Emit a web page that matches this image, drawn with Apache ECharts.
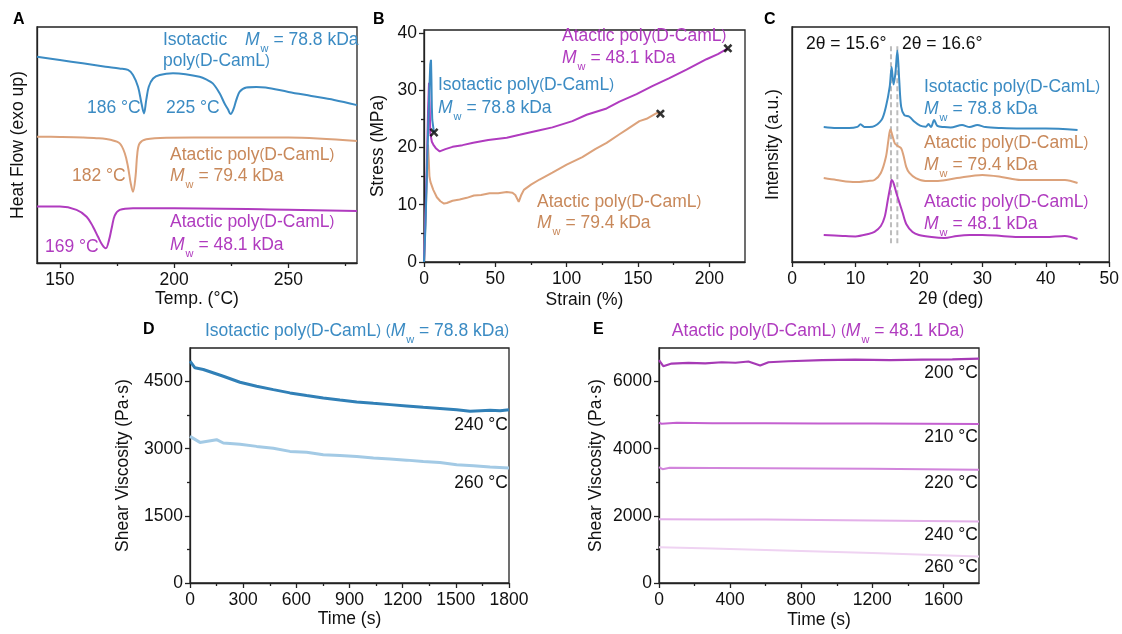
<!DOCTYPE html>
<html><head><meta charset="utf-8">
<script src="https://cdn.jsdelivr.net/npm/echarts@6/dist/echarts.min.js"></script>
<style>html,body{margin:0;padding:0;background:#fff}#c{width:1122px;height:634px}</style>
</head><body><div id="c"></div>
<script>
const FONT = '"Liberation Sans", Arial, Helvetica, sans-serif';
const BLUE = '#3b8bc3', BROWN_T = '#c8885a', BROWN_L = '#dca27b', PURPLE = '#b03bbf';

// ---- Panel A: DSC ----
const dscIsoT  = [140,150,160,170,176,179.8,182,184.2,185.7,186.8,187.8,188.9,190.8,193.7,199.5,205,211.1,214,216.9,219.9,222,223.6,224.7,226,227.2,228.7,231.6,236,240,250,260,270,280];
const dscIsoHF = [87.4,86.0,84.6,83.2,82.4,81.8,79.7,74.7,67.7,63.4,69.1,74.7,78.2,79.7,80.4,80.0,78.9,77.8,76.1,71.9,67.7,65.0,63.1,65.3,69.1,72.6,74.4,74.6,74.4,72.5,70.8,69.1,66.9];
const dscAt79T  = [140,150,160,166,172.6,176.2,178.4,179.8,181,182,183.1,183.9,184.9,187.8,196.6,220,250,280];
const dscAt79HF = [53.5,53.4,53.2,52.9,52.1,50.7,46.5,40.8,33.8,30.2,36.6,46.5,50.7,52.4,53.1,53.2,53.2,51.7];
const dscAt48T  = [140,150,157.3,161.7,164.5,166.7,168.6,170.1,171.5,172.8,174,176.2,182,200,250,280];
const dscAt48HF = [23.9,23.9,22.5,19.6,15.4,11.1,7.6,6.2,9.7,15.4,20.1,22.5,23.2,23.2,22.6,22.0];
const aXMajor = [150,200,250], aXMinor = [175,225,275];

// ---- Panel B: stress-strain ----
const ssIsoStrain = [0,1,2,3,3.8,4.4,4.9,5.2,5.5,5.8,6.5,7];
const ssIsoStress = [0,6,15,24,30.5,34.5,35.3,32,27,24.8,23.5,22.6];
const ssAt48Strain = [0,1,2,2.8,3.5,4,4.4,5.5,6.5,8.5,11,15,20,27,34.5,45,58,67,81,90,104,114,128,137,149,160,172,184,198,206,213];
const ssAt48Stress = [0,8,17,26,31.3,27,22.5,21,20.5,19.8,19.3,19.7,20.1,20.4,20.8,21.3,21.7,22.2,23.0,23.5,24.6,25.7,26.8,28.0,29.3,30.7,32.1,33.6,35.4,36.3,37.3];
const ssAt79Strain = [0,1,2,2.8,3.3,3.8,4.5,6.5,9,11.5,14,16,20,25,30,35,40,46,52,58,62,64,66.4,68,70,75,81,90,100,111,120,128,137,142,151,156,163,165.7];
const ssAt79Stress = [0,7,15,20.5,18,15,14,12.6,11.3,10.6,10.2,10.3,10.7,10.9,11.2,11.6,11.7,12.0,12.0,12.2,12.1,11.7,10.5,11.6,12.6,13.5,14.4,15.6,17.0,18.3,19.7,20.8,22.3,23.1,24.6,25.0,26.0,25.9];
const breakStrain = [7,165.7,213];
const breakStress = [22.6,25.9,37.3];
const bXMajor = [0,50,100,150,200], bXMinor = [25,75,125,175];
const bYMajor = [0,10,20,30,40], bYMinor = [5,15,25,35];

// ---- Panel C: XRD ----
const xrdIso2t = [5,7,9,10.3,10.8,11.4,12.7,14.1,14.8,15.4,15.7,16.0,16.3,16.6,16.9,17.2,17.7,18.5,19.3,20.2,21.1,21.5,21.9,22.4,22.9,24,25,26.8,28,29.2,30.5,33,36,40,45];
const xrdIsoI  = [57.4,57.0,57.0,57.5,58.6,57.5,57.6,60.4,66.1,74.6,83.0,75.5,80.5,90.0,77.4,66.1,62.5,61.8,59.7,58.0,57.6,58.7,57.4,60.4,57.9,57.4,57.2,58.3,57.4,58.3,57.4,57.0,56.8,56.8,56.2];
const xrdAt79_2t = [5,7,10,12,13,14,14.8,15.2,15.5,15.8,16.2,16.6,17.2,17.6,18.0,18.5,19.5,21,23,26,30,33,36,40,43,45];
const xrdAt79I   = [35.7,34.9,34.0,34.5,34.9,37.9,44.7,52,56.5,54,50.5,49.5,48.4,45,40.5,37.9,35.7,34.5,34.5,35.7,37.0,36.2,34.9,34.9,34.9,33.6];
const xrdAt48_2t = [5,8,10,12,13,14,14.6,15.1,15.5,15.7,16.0,16.4,16.9,17.4,18,19,20,22,24,26,28,30,33,36,40,43,45];
const xrdAt48I   = [11.5,11.1,10.9,11.9,12.8,15.3,19.1,26.4,32.3,34.9,33.6,29.8,25.5,21.3,16.2,12.8,11.5,10.6,10.2,11.1,11.5,11.5,11.1,10.6,10.6,11.1,9.8];
const refPeaks = [15.6,16.6];
const refSpan = [8,93];
const cXMajor = [0,10,20,30,40,50], cXMinor = [5,15,25,35,45];

// ---- Panel D: isotactic viscosity ----
const dT240 = [0,28,75,188,282,376,470,564,658,752,846,941,1035,1129,1222,1316,1410,1505,1580,1640,1693,1750,1800];
const dV240 = [4955,4807,4769,4619,4485,4395,4320,4247,4190,4135,4090,4046,4015,3985,3955,3925,3900,3873,3835,3850,3858,3850,3873];
const dT260 = [0,56,150,188,282,376,470,564,658,752,846,941,1035,1129,1222,1316,1410,1505,1600,1693,1800];
const dV260 = [3276,3141,3202,3127,3100,3052,3010,2940,2920,2866,2850,2828,2790,2769,2745,2716,2690,2642,2620,2590,2568];
const dXMajor = [0,300,600,900,1200,1500,1800], dXMinor = [150,450,750,1050,1350,1650];
const dYMajor = [0,1500,3000,4500], dYMinor = [750,2250,3750];

// ---- Panel E: atactic viscosity ----
const eT200 = [0,24,71,165,260,353,430,503,569,616,728,917,1104,1300,1480,1650,1800];
const eV200 = [6636,6457,6537,6558,6540,6576,6560,6597,6477,6576,6606,6636,6656,6640,6656,6660,6686];
const eT210 = [0,15,100,300,600,900,1200,1500,1800];
const eV210 = [4780,4740,4770,4760,4755,4750,4750,4745,4735];
const eT220 = [0,20,60,300,600,900,1200,1500,1800];
const eV220 = [3450,3390,3430,3425,3420,3410,3400,3390,3370];
const eT240 = [0,300,600,900,1200,1500,1800];
const eV240 = [1900,1895,1890,1875,1860,1845,1830];
const eT260 = [0,300,600,900,1200,1500,1800];
const eV260 = [1066,1030,985,940,890,840,790];
const eXMajor = [0,400,800,1200,1600], eXMinor = [200,600,1000,1400];
const eYMajor = [0,2000,4000,6000], eYMinor = [1000,3000,5000];

function zip(a,b){return a.map((v,i)=>[v,b[i]]);}

const gridDefs = [
  {left:37, top:27, width:320, height:236},
  {left:424, top:30, width:321, height:232},
  {left:792, top:27, width:319, height:235},
  {left:190, top:348, width:319, height:235},
  {left:659, top:348, width:320, height:235}
];
// main grids (0-4) draw the frame; overlay grids (5-9) carry the minor ticks
const grids = gridDefs.map(g=>Object.assign({show:true, borderColor:'#222', borderWidth:1.3, backgroundColor:'rgba(0,0,0,0)'}, g))
  .concat(gridDefs.map(g=>Object.assign({show:false}, g)));

const AL = {color:'#222', width:1.3};
const LBL = {color:'#111', fontSize:17.5, fontFamily:FONT};

function mainX(gi,min,max,major,name,gap){
  return {type:'value', gridIndex:gi, min, max, position:'bottom',
    axisLine:{show:true, onZero:false, lineStyle:AL},
    axisTick:{show:true, customValues:major, length:5, lineStyle:AL},
    axisLabel:Object.assign({show:true, customValues:major, margin:8, formatter:v=>String(v)}, LBL),
    splitLine:{show:false},
    name, nameLocation:'middle', nameGap:gap, nameTextStyle:LBL};
}
function minorX(gi,min,max,minor){
  return {type:'value', gridIndex:gi+5, min, max, position:'bottom', show: !!minor,
    axisLine:{show:false, onZero:false}, axisTick:{show:!!minor, customValues:minor||[], length:3, lineStyle:AL},
    axisLabel:{show:false}, splitLine:{show:false}};
}
function mainY(gi,min,max,major,name,gap){
  const show = !!major;
  return {type:'value', gridIndex:gi, min, max, position:'left',
    axisLine:{show:true, onZero:false, lineStyle:AL},
    axisTick:{show:show, customValues:major||[], length:5, lineStyle:AL},
    axisLabel:Object.assign({show:show, customValues:major||[], margin:7, formatter:v=>String(v)}, LBL),
    splitLine:{show:false},
    name, nameLocation:'middle', nameGap:gap, nameTextStyle:LBL};
}
function minorY(gi,min,max,minor){
  return {type:'value', gridIndex:gi+5, min, max, position:'left', show: !!minor,
    axisLine:{show:false, onZero:false}, axisTick:{show:!!minor, customValues:minor||[], length:3, lineStyle:AL},
    axisLabel:{show:false}, splitLine:{show:false}};
}

const xAxes = [
  mainX(0,140,280,aXMajor,'Temp. (°C)',27),
  mainX(1,0,225,bXMajor,'Strain (%)',29),
  mainX(2,0,50,cXMajor,'2θ (deg)',28),
  mainX(3,0,1800,dXMajor,'Time (s)',27),
  mainX(4,0,1800,eXMajor,'Time (s)',28),
  minorX(0,140,280,aXMinor),
  minorX(1,0,225,bXMinor),
  minorX(2,0,50,cXMinor),
  minorX(3,0,1800,dXMinor),
  minorX(4,0,1800,eXMinor)
];
const yAxes = [
  mainY(0,0,100,null,'Heat Flow (exo up)',10),
  mainY(1,0,40.5,bYMajor,'Stress (MPa)',37),
  mainY(2,0,100,null,'Intensity (a.u.)',10),
  mainY(3,0,5250,dYMajor,'Shear Viscosity (Pa·s)',58),
  mainY(4,0,7000,eYMajor,'Shear Viscosity (Pa·s)',54),
  minorY(0,0,100,null),
  minorY(1,0,40.5,bYMinor),
  minorY(2,0,100,null),
  minorY(3,0,5250,dYMinor),
  minorY(4,0,7000,eYMinor)
];

function line(p, data, color, width, smooth, extra){
  return Object.assign({type:'line', xAxisIndex:p, yAxisIndex:p, data, symbol:'none', showSymbol:false,
    smooth: smooth||false, lineStyle:{color, width}, itemStyle:{color}, silent:true}, extra||{});
}

const series = [
  // A
  line(0, zip(dscIsoT,dscIsoHF), BLUE, 2, 0.35),
  line(0, zip(dscAt79T,dscAt79HF), BROWN_L, 2, 0.35),
  line(0, zip(dscAt48T,dscAt48HF), PURPLE, 2, 0.35),
  // B
  line(1, zip(ssAt79Strain,ssAt79Stress), BROWN_L, 2),
  line(1, zip(ssAt48Strain,ssAt48Stress), PURPLE, 2),
  line(1, zip(ssIsoStrain,ssIsoStress), BLUE, 2),
  {type:'scatter', xAxisIndex:1, yAxisIndex:1, data: zip(breakStrain,breakStress), silent:true,
   symbol:'path://M0,2 L2,0 L5,3 L8,0 L10,2 L7,5 L10,8 L8,10 L5,7 L2,10 L0,8 L3,5 Z', symbolSize:9, itemStyle:{color:'#000'}, z:5},
  // C
  line(2, [[refPeaks[0],refSpan[0]],[refPeaks[0],refSpan[1]]], '#bdbdbd', 2, false, {lineStyle:{color:'#bdbdbd', width:2, type:[5,3]}}),
  line(2, [[refPeaks[1],refSpan[0]],[refPeaks[1],refSpan[1]]], '#bdbdbd', 2, false, {lineStyle:{color:'#bdbdbd', width:2, type:[5,3]}}),
  line(2, zip(xrdIso2t,xrdIsoI), BLUE, 2, 0.3),
  line(2, zip(xrdAt79_2t,xrdAt79I), BROWN_L, 2, 0.3),
  line(2, zip(xrdAt48_2t,xrdAt48I), PURPLE, 2, 0.3),
  // D
  line(3, zip(dT240,dV240), '#3180b7', 3),
  line(3, zip(dT260,dV260), '#a3cae5', 3),
  // E
  line(4, zip(eT200,eV200), '#a63ab5', 2.2),
  line(4, zip(eT210,eV210), '#c460d0', 2),
  line(4, zip(eT220,eV220), '#d285dc', 2),
  line(4, zip(eT240,eV240), '#e3b0e9', 2),
  line(4, zip(eT260,eV260), '#efd3f2', 2)
];

function rich(color){
  return {
    i:{fontStyle:'italic', fontSize:17.5, fontFamily:FONT, fill:color, color},
    s:{fontSize:11, fontFamily:FONT, fill:color, color, padding:[18,0,0,1]},
    p:{fontSize:14.5, fontFamily:FONT, fill:color, color}
  };
}
function T(x,y,text,color,align,size){
  return {type:'text', x, y, silent:true, z:10,
    style:{text, fill:color, fontSize:size||17.5, fontFamily:FONT, align:align||'left', verticalAlign:'middle', rich:rich(color)}};
}
function L(x,y,t){return {type:'text', x, y, silent:true, style:{text:t, fill:'#000', fontSize:16, fontWeight:'bold', fontFamily:FONT, verticalAlign:'middle'}};}
const POLY = 'poly{p|(}D-CamL{p|)}';
const MW = v => '{i|M}{s|w} = ' + v + ' kDa';

const graphics = [
  L(13,20,'A'), L(373,20,'B'), L(764,20,'C'), L(143,330,'D'), L(593,330,'E'),
  // A
  T(163,40,'Isotactic',BLUE), T(245,40,MW('78.8'),BLUE), T(163,61,POLY,BLUE),
  T(87,108,'186 °C',BLUE), T(166,108,'225 °C',BLUE),
  T(170,155,'Atactic '+POLY,BROWN_T), T(170,176,MW('79.4'),BROWN_T), T(72,176,'182 °C',BROWN_T),
  T(170,222,'Atactic '+POLY,PURPLE), T(170,245,MW('48.1'),PURPLE), T(45,247,'169 °C',PURPLE),
  // B
  T(562,36,'Atactic '+POLY,PURPLE), T(562,58,MW('48.1'),PURPLE),
  T(438,85,'Isotactic '+POLY,BLUE), T(438,108,MW('78.8'),BLUE),
  T(537,202,'Atactic '+POLY,BROWN_T), T(537,223,MW('79.4'),BROWN_T),
  // C
  T(806,44,'2θ = 15.6°','#111'), T(902,44,'2θ = 16.6°','#111'),
  T(924,87,'Isotactic '+POLY,BLUE), T(924,109,MW('78.8'),BLUE),
  T(924,143,'Atactic '+POLY,BROWN_T), T(924,165,MW('79.4'),BROWN_T),
  T(924,202,'Atactic '+POLY,PURPLE), T(924,224,MW('48.1'),PURPLE),
  // D
  T(357,331,'Isotactic '+POLY+' {p|(}'+'{i|M}{s|w} = 78.8 kDa{p|)}',BLUE,'center'),
  T(508,425,'240 °C','#111','right'), T(508,483,'260 °C','#111','right'),
  // E
  T(818,331,'Atactic '+POLY+' {p|(}'+'{i|M}{s|w} = 48.1 kDa{p|)}',PURPLE,'center'),
  T(978,373,'200 °C','#111','right'), T(978,437,'210 °C','#111','right'),
  T(978,483,'220 °C','#111','right'), T(978,535,'240 °C','#111','right'),
  T(978,567,'260 °C','#111','right')
];

const chart = echarts.init(document.getElementById('c'), null, {renderer:'canvas'});
chart.setOption({
  animation:false,
  backgroundColor:'#fff',
  textStyle:{fontFamily:FONT},
  grid:grids, xAxis:xAxes, yAxis:yAxes, series, graphic:graphics
});
</script></body></html>
